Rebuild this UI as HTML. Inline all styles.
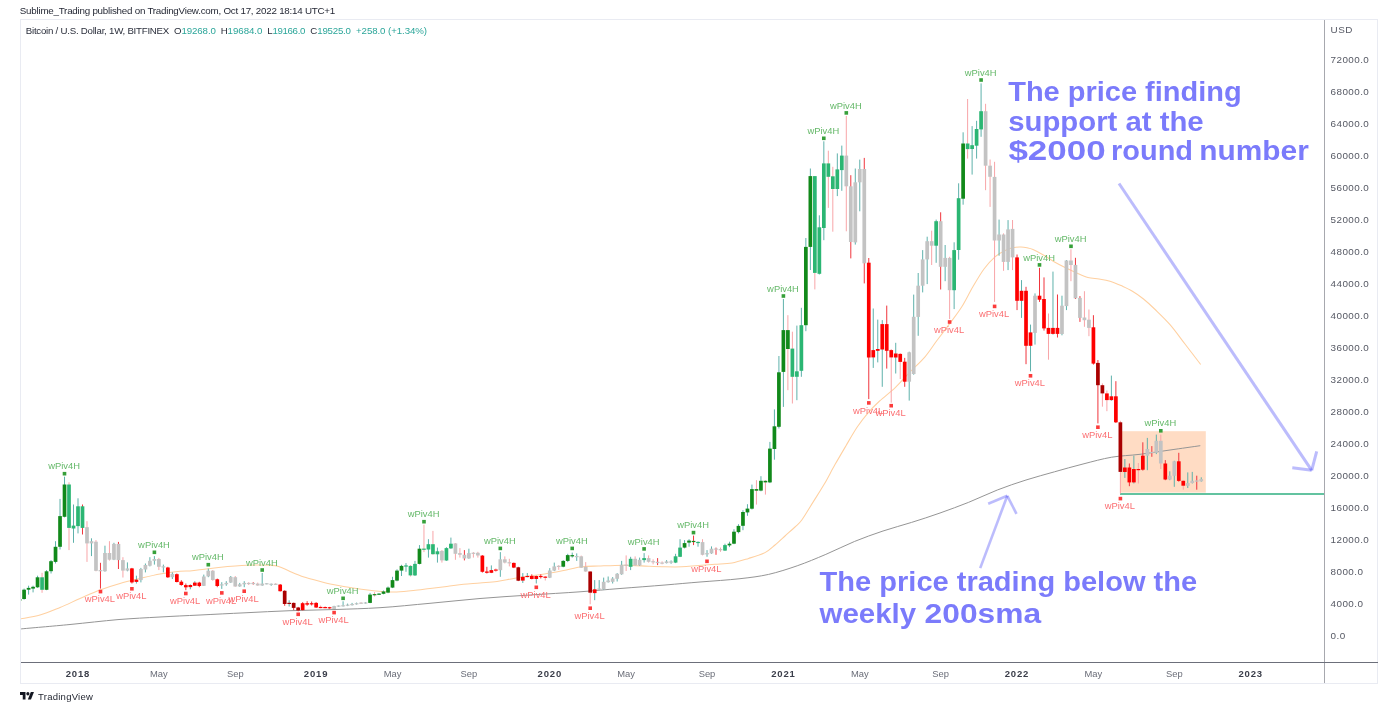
<!DOCTYPE html>
<html lang="en"><head><meta charset="utf-8"><title>Bitcoin / U.S. Dollar chart</title>
<style>html,body{margin:0;padding:0;background:#fff;}body{width:1399px;height:719px;overflow:hidden;font-family:"Liberation Sans", sans-serif;}svg{display:block}</style>
</head><body>
<svg width="1399" height="719" viewBox="0 0 1399 719" font-family='"Liberation Sans", sans-serif'>
<rect width="1399" height="719" fill="#fff"/>
<rect x="20.5" y="19.5" width="1357" height="664" fill="#fff" stroke="#e9ebf2" stroke-width="1"/>
<defs><clipPath id="cp"><rect x="21" y="20" width="1303" height="642"/></clipPath></defs>
<g clip-path="url(#cp)">
<rect x="1120.2" y="431.2" width="85.6" height="61.4" fill="#ffdcc4"/>
<line x1="1120" y1="494" x2="1324" y2="494" stroke="#63c3a0" stroke-width="2"/>
<path d="M20.0,619.0 C23.3,618.3 33.3,616.9 40.0,615.0 C46.7,613.1 53.3,610.2 60.0,607.5 C66.7,604.8 73.3,601.4 80.0,598.5 C86.7,595.6 93.3,592.5 100.0,590.0 C106.7,587.5 113.3,585.4 120.0,583.5 C126.7,581.6 133.3,580.1 140.0,578.5 C146.7,576.9 153.3,575.2 160.0,574.0 C166.7,572.8 175.0,571.8 180.0,571.3 C185.0,570.8 186.7,571.2 190.0,570.9 C193.3,570.6 197.0,570.1 200.0,569.7 C203.0,569.4 204.9,569.2 208.0,568.8 C211.1,568.4 212.1,568.0 218.6,567.4 C225.1,566.8 238.4,565.6 247.0,565.3 C255.6,564.9 264.7,565.1 270.0,565.3 C275.3,565.5 275.3,565.4 278.6,566.4 C281.9,567.4 285.8,569.6 290.0,571.4 C294.2,573.2 299.2,575.4 304.0,577.0 C308.8,578.6 313.8,579.7 318.6,581.0 C323.4,582.3 328.3,583.6 333.0,584.6 C337.7,585.6 342.3,586.2 347.0,587.0 C351.7,587.8 356.6,588.6 361.4,589.3 C366.2,590.0 371.8,590.6 375.7,591.0 C379.6,591.4 381.5,591.6 385.0,591.8 C388.5,592.0 392.0,592.2 396.7,592.0 C401.4,591.8 407.8,591.2 413.4,590.6 C418.9,590.0 424.4,589.2 430.0,588.5 C435.6,587.8 441.2,587.2 446.8,586.5 C452.4,585.8 458.0,584.9 463.5,584.3 C469.0,583.7 474.4,583.5 480.0,583.0 C485.6,582.5 491.4,582.2 497.0,581.5 C502.6,580.8 508.0,579.4 513.5,578.5 C519.0,577.6 524.4,576.8 530.0,576.0 C535.6,575.2 541.4,574.4 547.0,573.5 C552.6,572.6 557.8,571.6 563.6,570.5 C569.4,569.4 575.9,567.5 581.7,566.8 C587.5,566.0 592.9,566.2 598.4,566.0 C603.9,565.8 609.4,565.5 615.0,565.4 C620.6,565.3 626.2,565.2 631.8,565.4 C637.4,565.5 643.0,566.1 648.5,566.3 C654.0,566.5 659.4,566.7 665.0,566.8 C670.6,566.9 676.3,567.0 681.9,566.8 C687.5,566.6 693.1,565.8 698.6,565.4 C704.1,565.0 709.4,564.7 715.0,564.3 C720.6,563.9 726.4,564.0 732.0,563.0 C737.6,562.0 743.1,560.1 748.6,558.4 C754.1,556.7 760.6,554.8 765.0,552.6 C769.4,550.4 771.7,547.8 775.0,545.0 C778.3,542.2 781.7,539.0 785.0,536.0 C788.3,533.0 792.2,529.7 795.0,527.0 C797.8,524.3 798.8,524.1 801.8,520.0 C804.8,515.9 809.2,508.3 812.9,502.4 C816.6,496.5 820.3,490.9 824.0,484.6 C827.7,478.3 831.3,471.1 835.0,464.6 C838.7,458.1 842.3,452.0 846.0,445.7 C849.7,439.4 853.6,432.4 857.4,426.8 C861.1,421.2 864.8,416.6 868.5,412.3 C872.2,408.0 875.2,405.1 879.6,401.0 C884.0,396.9 889.9,392.6 895.0,387.8 C900.1,383.0 905.0,377.2 910.0,372.0 C915.0,366.8 920.5,362.1 925.0,356.8 C929.5,351.5 933.0,345.7 937.3,340.0 C941.6,334.3 946.5,327.9 950.6,322.4 C954.7,316.9 958.1,312.7 961.8,306.8 C965.5,300.9 969.2,293.1 972.9,286.8 C976.6,280.5 980.3,274.0 984.0,269.0 C987.7,264.0 991.3,260.0 995.0,256.8 C998.7,253.6 1003.1,251.6 1006.3,250.0 C1009.5,248.4 1011.5,248.0 1014.0,247.5 C1016.5,247.0 1018.8,246.9 1021.0,247.0 C1023.2,247.1 1025.0,247.4 1027.0,247.8 C1029.0,248.2 1030.3,248.3 1033.0,249.5 C1035.7,250.7 1039.8,252.9 1043.4,255.0 C1047.0,257.1 1050.8,259.9 1054.5,262.0 C1058.2,264.1 1061.9,266.0 1065.6,267.8 C1069.3,269.6 1073.1,271.4 1076.8,273.0 C1080.5,274.6 1084.2,276.4 1087.9,277.4 C1091.6,278.4 1095.3,278.4 1099.0,279.0 C1102.7,279.6 1106.3,280.1 1110.0,281.2 C1113.7,282.3 1117.3,283.9 1121.0,285.6 C1124.7,287.3 1128.7,289.0 1132.4,291.2 C1136.2,293.4 1139.8,296.0 1143.5,299.0 C1147.2,302.0 1150.2,304.7 1154.6,309.0 C1159.0,313.3 1164.9,318.8 1170.0,324.6 C1175.1,330.4 1179.9,337.4 1185.0,344.0 C1190.1,350.6 1198.1,361.1 1200.7,364.5" fill="none" stroke="#ffd0a0" stroke-width="1.05" stroke-linejoin="round"/>
<path d="M20.0,629.0 C28.3,628.2 53.7,626.1 70.0,624.5 C86.3,622.9 103.0,620.9 118.0,619.6 C133.0,618.4 146.3,617.8 160.0,617.0 C173.7,616.2 185.8,615.7 200.0,615.0 C214.2,614.3 230.0,613.5 245.0,612.8 C260.0,612.1 275.0,611.2 290.0,610.7 C305.0,610.2 320.0,610.0 335.0,609.5 C350.0,609.0 364.2,608.7 380.0,607.7 C395.8,606.7 413.3,604.8 430.0,603.3 C446.7,601.8 463.3,599.9 480.0,598.5 C496.7,597.1 513.3,596.1 530.0,595.0 C546.7,593.9 565.0,592.9 580.0,591.8 C595.0,590.7 605.8,589.6 620.0,588.5 C634.2,587.4 651.7,586.1 665.0,585.0 C678.3,583.9 687.5,583.0 700.0,582.0 C712.5,581.0 728.6,580.0 740.0,578.7 C751.4,577.4 759.1,576.5 768.6,574.4 C778.1,572.2 787.7,569.1 797.2,565.8 C806.7,562.5 816.3,558.4 825.8,554.4 C835.3,550.4 844.9,545.4 854.4,541.5 C863.9,537.6 873.5,534.2 883.0,531.0 C892.5,527.8 902.1,525.4 911.6,522.4 C921.1,519.4 930.5,516.4 940.0,513.0 C949.5,509.6 959.2,506.1 968.7,502.3 C978.2,498.5 987.8,493.7 997.3,490.0 C1006.8,486.3 1016.5,483.0 1026.0,480.0 C1035.5,477.0 1045.0,474.5 1054.5,471.8 C1064.0,469.1 1073.5,466.4 1083.0,464.0 C1092.5,461.6 1102.2,458.8 1111.7,457.2 C1121.2,455.6 1130.3,455.5 1140.0,454.3 C1149.7,453.1 1160.0,451.4 1170.0,450.0 C1180.0,448.6 1195.2,446.4 1200.3,445.7" fill="none" stroke="#959595" stroke-width="1" stroke-linejoin="round"/>
<line x1="19.59" y1="598.4" x2="19.59" y2="601.1" stroke="#5eb1ab" stroke-width="1"/>
<rect x="17.74" y="599.1" width="3.7" height="1.6" fill="#11891a"/>
<line x1="24.08" y1="588.6" x2="24.08" y2="599.7" stroke="#5eb1ab" stroke-width="1"/>
<rect x="22.23" y="589.7" width="3.7" height="9.3" fill="#11891a"/>
<line x1="28.58" y1="585.7" x2="28.58" y2="594.6" stroke="#5eb1ab" stroke-width="1"/>
<rect x="26.73" y="587.9" width="3.7" height="1.8" fill="#11891a"/>
<line x1="33.07" y1="585.7" x2="33.07" y2="592.4" stroke="#5eb1ab" stroke-width="1"/>
<rect x="31.22" y="586.8" width="3.7" height="1.8" fill="#11891a"/>
<line x1="37.56" y1="575.7" x2="37.56" y2="587.9" stroke="#5eb1ab" stroke-width="1"/>
<rect x="35.71" y="577.3" width="3.7" height="10.0" fill="#11891a"/>
<line x1="42.06" y1="572.8" x2="42.06" y2="592.8" stroke="#f8a5a8" stroke-width="1"/>
<rect x="40.21" y="577.3" width="3.7" height="12.5" fill="#2bb673"/>
<line x1="46.55" y1="570.1" x2="46.55" y2="590.2" stroke="#5eb1ab" stroke-width="1"/>
<rect x="44.70" y="571.3" width="3.7" height="18.5" fill="#11891a"/>
<line x1="51.04" y1="560.1" x2="51.04" y2="573.5" stroke="#5eb1ab" stroke-width="1"/>
<rect x="49.19" y="561.2" width="3.7" height="10.0" fill="#11891a"/>
<line x1="55.53" y1="541.2" x2="55.53" y2="563.5" stroke="#5eb1ab" stroke-width="1"/>
<rect x="53.68" y="546.8" width="3.7" height="15.1" fill="#11891a"/>
<line x1="60.03" y1="498.9" x2="60.03" y2="549.5" stroke="#5eb1ab" stroke-width="1"/>
<rect x="58.18" y="516.1" width="3.7" height="30.7" fill="#11891a"/>
<line x1="64.52" y1="476.7" x2="64.52" y2="517.4" stroke="#5eb1ab" stroke-width="1"/>
<rect x="62.67" y="484.5" width="3.7" height="32.3" fill="#11891a"/>
<line x1="69.01" y1="482.3" x2="69.01" y2="550.1" stroke="#f8a5a8" stroke-width="1"/>
<rect x="67.16" y="484.5" width="3.7" height="43.4" fill="#2bb673"/>
<line x1="73.51" y1="504.5" x2="73.51" y2="542.8" stroke="#5eb1ab" stroke-width="1"/>
<rect x="71.66" y="525.6" width="3.7" height="2.9" fill="#2bb673"/>
<line x1="78.00" y1="498.3" x2="78.00" y2="533.4" stroke="#5eb1ab" stroke-width="1"/>
<rect x="76.15" y="506.3" width="3.7" height="19.8" fill="#2bb673"/>
<line x1="82.49" y1="504.5" x2="82.49" y2="534.5" stroke="#f0353c" stroke-width="1"/>
<rect x="80.64" y="506.3" width="3.7" height="21.6" fill="#2bb673"/>
<line x1="86.99" y1="521.2" x2="86.99" y2="561.9" stroke="#f8a5a8" stroke-width="1"/>
<rect x="85.14" y="527.2" width="3.7" height="16.2" fill="#c3c3c3"/>
<line x1="91.48" y1="538.3" x2="91.48" y2="556.1" stroke="#5eb1ab" stroke-width="1"/>
<rect x="89.63" y="541.2" width="3.7" height="2.2" fill="#c3c3c3"/>
<line x1="95.97" y1="540.1" x2="95.97" y2="571.3" stroke="#f8a5a8" stroke-width="1"/>
<rect x="94.12" y="541.7" width="3.7" height="29.1" fill="#c3c3c3"/>
<line x1="100.47" y1="562.8" x2="100.47" y2="588.6" stroke="#f0353c" stroke-width="1"/>
<rect x="98.62" y="570.1" width="3.7" height="1.2" fill="#c3c3c3"/>
<line x1="104.96" y1="545.7" x2="104.96" y2="571.7" stroke="#5eb1ab" stroke-width="1"/>
<rect x="103.11" y="553.0" width="3.7" height="18.2" fill="#c3c3c3"/>
<line x1="109.45" y1="541.2" x2="109.45" y2="560.6" stroke="#f8a5a8" stroke-width="1"/>
<rect x="107.60" y="553.0" width="3.7" height="6.7" fill="#c3c3c3"/>
<line x1="113.94" y1="542.8" x2="113.94" y2="560.1" stroke="#5eb1ab" stroke-width="1"/>
<rect x="112.09" y="543.9" width="3.7" height="15.8" fill="#c3c3c3"/>
<line x1="118.44" y1="541.9" x2="118.44" y2="569.0" stroke="#f0353c" stroke-width="1"/>
<rect x="116.59" y="543.9" width="3.7" height="16.2" fill="#c3c3c3"/>
<line x1="122.93" y1="557.2" x2="122.93" y2="577.5" stroke="#f8a5a8" stroke-width="1"/>
<rect x="121.08" y="560.1" width="3.7" height="10.5" fill="#c3c3c3"/>
<line x1="127.42" y1="562.4" x2="127.42" y2="571.3" stroke="#5eb1ab" stroke-width="1"/>
<rect x="125.57" y="568.4" width="3.7" height="2.2" fill="#c3c3c3"/>
<line x1="131.92" y1="567.9" x2="131.92" y2="583.5" stroke="#f0353c" stroke-width="1"/>
<rect x="130.07" y="568.4" width="3.7" height="14.0" fill="#fe0000"/>
<line x1="136.41" y1="575.7" x2="136.41" y2="583.5" stroke="#5eb1ab" stroke-width="1"/>
<rect x="134.56" y="579.7" width="3.7" height="2.2" fill="#fe0000"/>
<line x1="140.90" y1="567.9" x2="140.90" y2="582.4" stroke="#5eb1ab" stroke-width="1"/>
<rect x="139.05" y="569.0" width="3.7" height="11.1" fill="#c3c3c3"/>
<line x1="145.40" y1="563.5" x2="145.40" y2="572.4" stroke="#5eb1ab" stroke-width="1"/>
<rect x="143.55" y="565.0" width="3.7" height="4.5" fill="#c3c3c3"/>
<line x1="149.89" y1="557.2" x2="149.89" y2="566.4" stroke="#5eb1ab" stroke-width="1"/>
<rect x="148.04" y="560.8" width="3.7" height="4.9" fill="#c3c3c3"/>
<line x1="154.38" y1="556.1" x2="154.38" y2="564.6" stroke="#5eb1ab" stroke-width="1"/>
<rect x="152.53" y="559.0" width="3.7" height="1.8" fill="#c3c3c3"/>
<line x1="158.87" y1="557.9" x2="158.87" y2="570.1" stroke="#f8a5a8" stroke-width="1"/>
<rect x="157.02" y="559.0" width="3.7" height="7.8" fill="#c3c3c3"/>
<line x1="163.37" y1="564.6" x2="163.37" y2="572.4" stroke="#5eb1ab" stroke-width="1"/>
<rect x="161.52" y="566.3" width="3.7" height="1.2" fill="#c3c3c3"/>
<line x1="167.86" y1="566.8" x2="167.86" y2="577.9" stroke="#f0353c" stroke-width="1"/>
<rect x="166.01" y="567.5" width="3.7" height="9.8" fill="#fe0000"/>
<line x1="172.35" y1="572.4" x2="172.35" y2="579.0" stroke="#5eb1ab" stroke-width="1"/>
<rect x="170.50" y="573.9" width="3.7" height="3.3" fill="#c3c3c3"/>
<line x1="176.85" y1="573.5" x2="176.85" y2="582.4" stroke="#f0353c" stroke-width="1"/>
<rect x="175.00" y="574.2" width="3.7" height="7.8" fill="#fe0000"/>
<line x1="181.34" y1="580.2" x2="181.34" y2="585.7" stroke="#f0353c" stroke-width="1"/>
<rect x="179.49" y="581.7" width="3.7" height="3.3" fill="#fe0000"/>
<line x1="185.83" y1="583.5" x2="185.83" y2="590.2" stroke="#f0353c" stroke-width="1"/>
<rect x="183.98" y="585.1" width="3.7" height="2.2" fill="#fe0000"/>
<line x1="190.32" y1="584.3" x2="190.32" y2="589.3" stroke="#5eb1ab" stroke-width="1"/>
<rect x="188.47" y="585.0" width="3.7" height="2.1" fill="#fe0000"/>
<line x1="194.82" y1="581.2" x2="194.82" y2="586.0" stroke="#5eb1ab" stroke-width="1"/>
<rect x="192.97" y="582.6" width="3.7" height="3.1" fill="#fe0000"/>
<line x1="199.31" y1="581.8" x2="199.31" y2="587.2" stroke="#f0353c" stroke-width="1"/>
<rect x="197.46" y="582.6" width="3.7" height="3.4" fill="#fe0000"/>
<line x1="203.80" y1="574.6" x2="203.80" y2="586.0" stroke="#5eb1ab" stroke-width="1"/>
<rect x="201.95" y="576.5" width="3.7" height="9.3" fill="#c3c3c3"/>
<line x1="208.30" y1="568.6" x2="208.30" y2="577.2" stroke="#5eb1ab" stroke-width="1"/>
<rect x="206.45" y="570.7" width="3.7" height="5.7" fill="#c3c3c3"/>
<line x1="212.79" y1="570.0" x2="212.79" y2="580.8" stroke="#f8a5a8" stroke-width="1"/>
<rect x="210.94" y="570.7" width="3.7" height="9.3" fill="#c3c3c3"/>
<line x1="217.28" y1="578.6" x2="217.28" y2="587.2" stroke="#f0353c" stroke-width="1"/>
<rect x="215.43" y="579.3" width="3.7" height="6.7" fill="#fe0000"/>
<line x1="221.78" y1="582.2" x2="221.78" y2="588.9" stroke="#5eb1ab" stroke-width="1"/>
<rect x="219.93" y="584.3" width="3.7" height="1.2" fill="#c3c3c3"/>
<line x1="226.27" y1="581.2" x2="226.27" y2="585.8" stroke="#5eb1ab" stroke-width="1"/>
<rect x="224.42" y="582.9" width="3.7" height="1.4" fill="#c3c3c3"/>
<line x1="230.76" y1="576.0" x2="230.76" y2="582.9" stroke="#5eb1ab" stroke-width="1"/>
<rect x="228.91" y="576.9" width="3.7" height="5.7" fill="#c3c3c3"/>
<line x1="235.26" y1="576.0" x2="235.26" y2="586.8" stroke="#f8a5a8" stroke-width="1"/>
<rect x="233.41" y="577.2" width="3.7" height="9.3" fill="#c3c3c3"/>
<line x1="239.75" y1="582.9" x2="239.75" y2="586.8" stroke="#5eb1ab" stroke-width="1"/>
<rect x="237.90" y="584.3" width="3.7" height="2.1" fill="#c3c3c3"/>
<line x1="244.24" y1="581.2" x2="244.24" y2="587.2" stroke="#5eb1ab" stroke-width="1"/>
<rect x="242.39" y="582.9" width="3.7" height="1.4" fill="#c3c3c3"/>
<line x1="248.73" y1="582.2" x2="248.73" y2="585.0" stroke="#f8a5a8" stroke-width="1"/>
<rect x="246.88" y="582.9" width="3.7" height="1.2" fill="#c3c3c3"/>
<line x1="253.23" y1="582.2" x2="253.23" y2="584.6" stroke="#f0353c" stroke-width="1"/>
<rect x="251.38" y="582.9" width="3.7" height="1.2" fill="#c3c3c3"/>
<line x1="257.72" y1="582.6" x2="257.72" y2="585.8" stroke="#f8a5a8" stroke-width="1"/>
<rect x="255.87" y="583.6" width="3.7" height="1.9" fill="#c3c3c3"/>
<line x1="262.21" y1="573.0" x2="262.21" y2="585.8" stroke="#5eb1ab" stroke-width="1"/>
<rect x="260.36" y="583.6" width="3.7" height="1.9" fill="#c3c3c3"/>
<line x1="266.71" y1="583.2" x2="266.71" y2="584.3" stroke="#5eb1ab" stroke-width="1"/>
<rect x="264.86" y="583.2" width="3.7" height="1.2" fill="#c3c3c3"/>
<line x1="271.20" y1="583.6" x2="271.20" y2="585.8" stroke="#5eb1ab" stroke-width="1"/>
<rect x="269.35" y="583.7" width="3.7" height="1.2" fill="#c3c3c3"/>
<line x1="275.69" y1="583.2" x2="275.69" y2="585.0" stroke="#f8a5a8" stroke-width="1"/>
<rect x="273.84" y="583.7" width="3.7" height="1.2" fill="#c3c3c3"/>
<line x1="280.19" y1="584.0" x2="280.19" y2="591.5" stroke="#f0353c" stroke-width="1"/>
<rect x="278.33" y="584.6" width="3.7" height="6.6" fill="#fe0000"/>
<line x1="284.68" y1="590.3" x2="284.68" y2="605.8" stroke="#f0353c" stroke-width="1"/>
<rect x="282.83" y="590.8" width="3.7" height="13.2" fill="#a90000"/>
<line x1="289.17" y1="600.3" x2="289.17" y2="606.5" stroke="#5eb1ab" stroke-width="1"/>
<rect x="287.32" y="602.8" width="3.7" height="1.2" fill="#a90000"/>
<line x1="293.66" y1="602.6" x2="293.66" y2="610.1" stroke="#f0353c" stroke-width="1"/>
<rect x="291.81" y="602.9" width="3.7" height="5.0" fill="#a90000"/>
<line x1="298.16" y1="606.9" x2="298.16" y2="611.3" stroke="#f0353c" stroke-width="1"/>
<rect x="296.31" y="607.5" width="3.7" height="2.9" fill="#a90000"/>
<line x1="302.65" y1="602.2" x2="302.65" y2="610.3" stroke="#f0353c" stroke-width="1"/>
<rect x="300.80" y="603.2" width="3.7" height="6.9" fill="#fe0000"/>
<line x1="307.14" y1="601.2" x2="307.14" y2="605.8" stroke="#f0353c" stroke-width="1"/>
<rect x="305.29" y="603.2" width="3.7" height="1.4" fill="#fe0000"/>
<line x1="311.64" y1="601.5" x2="311.64" y2="605.5" stroke="#f0353c" stroke-width="1"/>
<rect x="309.79" y="603.2" width="3.7" height="1.2" fill="#fe0000"/>
<line x1="316.13" y1="602.2" x2="316.13" y2="607.9" stroke="#f0353c" stroke-width="1"/>
<rect x="314.28" y="602.9" width="3.7" height="4.6" fill="#fe0000"/>
<line x1="320.62" y1="605.5" x2="320.62" y2="608.3" stroke="#f8a5a8" stroke-width="1"/>
<rect x="318.77" y="606.9" width="3.7" height="1.2" fill="#fe0000"/>
<line x1="325.12" y1="606.1" x2="325.12" y2="608.3" stroke="#f8a5a8" stroke-width="1"/>
<rect x="323.26" y="607.0" width="3.7" height="1.2" fill="#fe0000"/>
<line x1="329.61" y1="606.9" x2="329.61" y2="608.6" stroke="#f0353c" stroke-width="1"/>
<rect x="327.76" y="607.2" width="3.7" height="1.2" fill="#fe0000"/>
<line x1="334.10" y1="605.8" x2="334.10" y2="609.3" stroke="#5eb1ab" stroke-width="1"/>
<rect x="332.25" y="606.1" width="3.7" height="2.9" fill="#c3c3c3"/>
<line x1="338.59" y1="605.5" x2="338.59" y2="606.9" stroke="#5eb1ab" stroke-width="1"/>
<rect x="336.74" y="605.5" width="3.7" height="1.2" fill="#c3c3c3"/>
<line x1="343.09" y1="601.3" x2="343.09" y2="606.5" stroke="#5eb1ab" stroke-width="1"/>
<rect x="341.24" y="605.2" width="3.7" height="1.2" fill="#c3c3c3"/>
<line x1="347.58" y1="603.6" x2="347.58" y2="606.1" stroke="#5eb1ab" stroke-width="1"/>
<rect x="345.73" y="604.6" width="3.7" height="1.2" fill="#c3c3c3"/>
<line x1="352.07" y1="602.9" x2="352.07" y2="605.5" stroke="#5eb1ab" stroke-width="1"/>
<rect x="350.22" y="604.0" width="3.7" height="1.2" fill="#c3c3c3"/>
<line x1="356.57" y1="602.6" x2="356.57" y2="604.6" stroke="#5eb1ab" stroke-width="1"/>
<rect x="354.72" y="603.2" width="3.7" height="1.2" fill="#c3c3c3"/>
<line x1="361.06" y1="602.2" x2="361.06" y2="603.8" stroke="#f8a5a8" stroke-width="1"/>
<rect x="359.21" y="602.6" width="3.7" height="1.2" fill="#c3c3c3"/>
<line x1="365.55" y1="602.2" x2="365.55" y2="603.6" stroke="#5eb1ab" stroke-width="1"/>
<rect x="363.70" y="602.4" width="3.7" height="1.2" fill="#c3c3c3"/>
<line x1="370.05" y1="592.9" x2="370.05" y2="603.2" stroke="#5eb1ab" stroke-width="1"/>
<rect x="368.19" y="594.6" width="3.7" height="8.3" fill="#11891a"/>
<line x1="374.54" y1="592.2" x2="374.54" y2="596.5" stroke="#f8a5a8" stroke-width="1"/>
<rect x="372.69" y="594.1" width="3.7" height="1.2" fill="#11891a"/>
<line x1="379.03" y1="593.2" x2="379.03" y2="595.0" stroke="#5eb1ab" stroke-width="1"/>
<rect x="377.18" y="593.6" width="3.7" height="1.2" fill="#11891a"/>
<line x1="383.52" y1="590.5" x2="383.52" y2="594.3" stroke="#5eb1ab" stroke-width="1"/>
<rect x="381.67" y="591.5" width="3.7" height="2.3" fill="#11891a"/>
<line x1="388.02" y1="586.5" x2="388.02" y2="593.2" stroke="#5eb1ab" stroke-width="1"/>
<rect x="386.17" y="587.6" width="3.7" height="5.0" fill="#11891a"/>
<line x1="392.51" y1="576.8" x2="392.51" y2="588.1" stroke="#5eb1ab" stroke-width="1"/>
<rect x="390.66" y="580.1" width="3.7" height="7.5" fill="#11891a"/>
<line x1="397.00" y1="569.3" x2="397.00" y2="581.3" stroke="#5eb1ab" stroke-width="1"/>
<rect x="395.15" y="570.6" width="3.7" height="10.0" fill="#11891a"/>
<line x1="401.50" y1="564.8" x2="401.50" y2="576.0" stroke="#5eb1ab" stroke-width="1"/>
<rect x="399.65" y="565.9" width="3.7" height="4.7" fill="#11891a"/>
<line x1="405.99" y1="563.1" x2="405.99" y2="571.8" stroke="#5eb1ab" stroke-width="1"/>
<rect x="404.14" y="565.4" width="3.7" height="1.2" fill="#2bb673"/>
<line x1="410.48" y1="565.1" x2="410.48" y2="576.5" stroke="#f8a5a8" stroke-width="1"/>
<rect x="408.63" y="565.9" width="3.7" height="9.5" fill="#2bb673"/>
<line x1="414.98" y1="560.9" x2="414.98" y2="576.0" stroke="#5eb1ab" stroke-width="1"/>
<rect x="413.12" y="563.9" width="3.7" height="11.5" fill="#2bb673"/>
<line x1="419.47" y1="545.1" x2="419.47" y2="564.4" stroke="#5eb1ab" stroke-width="1"/>
<rect x="417.62" y="548.7" width="3.7" height="15.2" fill="#11891a"/>
<line x1="423.96" y1="524.7" x2="423.96" y2="552.1" stroke="#f8a5a8" stroke-width="1"/>
<rect x="422.11" y="548.6" width="3.7" height="1.2" fill="#2bb673"/>
<line x1="428.45" y1="539.2" x2="428.45" y2="557.6" stroke="#5eb1ab" stroke-width="1"/>
<rect x="426.60" y="544.2" width="3.7" height="5.3" fill="#2bb673"/>
<line x1="432.95" y1="530.9" x2="432.95" y2="554.8" stroke="#f8a5a8" stroke-width="1"/>
<rect x="431.10" y="544.2" width="3.7" height="10.0" fill="#2bb673"/>
<line x1="437.44" y1="547.6" x2="437.44" y2="562.6" stroke="#5eb1ab" stroke-width="1"/>
<rect x="435.59" y="551.3" width="3.7" height="3.0" fill="#2bb673"/>
<line x1="441.93" y1="550.1" x2="441.93" y2="562.6" stroke="#f8a5a8" stroke-width="1"/>
<rect x="440.08" y="550.9" width="3.7" height="9.5" fill="#c3c3c3"/>
<line x1="446.43" y1="547.2" x2="446.43" y2="560.9" stroke="#5eb1ab" stroke-width="1"/>
<rect x="444.58" y="548.1" width="3.7" height="12.4" fill="#2bb673"/>
<line x1="450.92" y1="537.6" x2="450.92" y2="548.9" stroke="#5eb1ab" stroke-width="1"/>
<rect x="449.07" y="543.7" width="3.7" height="4.7" fill="#2bb673"/>
<line x1="455.41" y1="543.1" x2="455.41" y2="559.8" stroke="#f8a5a8" stroke-width="1"/>
<rect x="453.56" y="543.4" width="3.7" height="10.4" fill="#c3c3c3"/>
<line x1="459.91" y1="548.1" x2="459.91" y2="557.6" stroke="#f8a5a8" stroke-width="1"/>
<rect x="458.06" y="553.1" width="3.7" height="1.7" fill="#c3c3c3"/>
<line x1="464.40" y1="550.1" x2="464.40" y2="560.4" stroke="#f0353c" stroke-width="1"/>
<rect x="462.55" y="554.8" width="3.7" height="3.7" fill="#c3c3c3"/>
<line x1="468.89" y1="548.7" x2="468.89" y2="558.8" stroke="#5eb1ab" stroke-width="1"/>
<rect x="467.04" y="553.1" width="3.7" height="5.3" fill="#c3c3c3"/>
<line x1="473.38" y1="552.1" x2="473.38" y2="557.6" stroke="#f8a5a8" stroke-width="1"/>
<rect x="471.53" y="552.7" width="3.7" height="1.2" fill="#c3c3c3"/>
<line x1="477.88" y1="551.8" x2="477.88" y2="557.6" stroke="#f8a5a8" stroke-width="1"/>
<rect x="476.03" y="552.8" width="3.7" height="2.7" fill="#c3c3c3"/>
<line x1="482.37" y1="555.1" x2="482.37" y2="572.6" stroke="#f0353c" stroke-width="1"/>
<rect x="480.52" y="555.6" width="3.7" height="16.2" fill="#fe0000"/>
<line x1="486.86" y1="566.8" x2="486.86" y2="573.5" stroke="#f0353c" stroke-width="1"/>
<rect x="485.01" y="571.5" width="3.7" height="1.3" fill="#fe0000"/>
<line x1="491.36" y1="565.4" x2="491.36" y2="573.1" stroke="#5eb1ab" stroke-width="1"/>
<rect x="489.51" y="570.1" width="3.7" height="2.7" fill="#fe0000"/>
<line x1="495.85" y1="568.4" x2="495.85" y2="572.1" stroke="#f8a5a8" stroke-width="1"/>
<rect x="494.00" y="569.5" width="3.7" height="1.2" fill="#fe0000"/>
<line x1="500.34" y1="552.1" x2="500.34" y2="576.8" stroke="#5eb1ab" stroke-width="1"/>
<rect x="498.49" y="559.3" width="3.7" height="10.9" fill="#c3c3c3"/>
<line x1="504.84" y1="556.4" x2="504.84" y2="563.4" stroke="#f8a5a8" stroke-width="1"/>
<rect x="502.99" y="559.3" width="3.7" height="3.3" fill="#c3c3c3"/>
<line x1="509.33" y1="558.8" x2="509.33" y2="566.4" stroke="#f8a5a8" stroke-width="1"/>
<rect x="507.48" y="562.2" width="3.7" height="1.2" fill="#c3c3c3"/>
<line x1="513.82" y1="562.6" x2="513.82" y2="568.1" stroke="#f0353c" stroke-width="1"/>
<rect x="511.97" y="562.9" width="3.7" height="4.7" fill="#fe0000"/>
<line x1="518.31" y1="566.8" x2="518.31" y2="581.1" stroke="#f0353c" stroke-width="1"/>
<rect x="516.46" y="567.3" width="3.7" height="13.4" fill="#a90000"/>
<line x1="522.81" y1="573.1" x2="522.81" y2="583.0" stroke="#5eb1ab" stroke-width="1"/>
<rect x="520.96" y="576.8" width="3.7" height="3.8" fill="#fe0000"/>
<line x1="527.30" y1="573.0" x2="527.30" y2="577.3" stroke="#5eb1ab" stroke-width="1"/>
<rect x="525.45" y="575.9" width="3.7" height="1.2" fill="#fe0000"/>
<line x1="531.79" y1="574.3" x2="531.79" y2="579.3" stroke="#f0353c" stroke-width="1"/>
<rect x="529.94" y="576.0" width="3.7" height="3.0" fill="#fe0000"/>
<line x1="536.29" y1="575.5" x2="536.29" y2="583.5" stroke="#5eb1ab" stroke-width="1"/>
<rect x="534.44" y="576.0" width="3.7" height="3.0" fill="#fe0000"/>
<line x1="540.78" y1="574.3" x2="540.78" y2="578.5" stroke="#f0353c" stroke-width="1"/>
<rect x="538.93" y="575.9" width="3.7" height="1.2" fill="#fe0000"/>
<line x1="545.27" y1="576.0" x2="545.27" y2="580.5" stroke="#f8a5a8" stroke-width="1"/>
<rect x="543.42" y="576.6" width="3.7" height="1.2" fill="#fe0000"/>
<line x1="549.77" y1="568.1" x2="549.77" y2="578.1" stroke="#5eb1ab" stroke-width="1"/>
<rect x="547.92" y="570.5" width="3.7" height="7.2" fill="#c3c3c3"/>
<line x1="554.26" y1="562.6" x2="554.26" y2="571.1" stroke="#5eb1ab" stroke-width="1"/>
<rect x="552.41" y="566.4" width="3.7" height="4.2" fill="#c3c3c3"/>
<line x1="558.75" y1="565.1" x2="558.75" y2="569.8" stroke="#f8a5a8" stroke-width="1"/>
<rect x="556.90" y="565.8" width="3.7" height="1.2" fill="#c3c3c3"/>
<line x1="563.24" y1="560.1" x2="563.24" y2="567.3" stroke="#5eb1ab" stroke-width="1"/>
<rect x="561.39" y="560.9" width="3.7" height="5.8" fill="#11891a"/>
<line x1="567.74" y1="553.8" x2="567.74" y2="562.1" stroke="#5eb1ab" stroke-width="1"/>
<rect x="565.89" y="555.1" width="3.7" height="5.8" fill="#11891a"/>
<line x1="572.23" y1="552.6" x2="572.23" y2="557.6" stroke="#5eb1ab" stroke-width="1"/>
<rect x="570.38" y="555.1" width="3.7" height="1.3" fill="#11891a"/>
<line x1="576.72" y1="553.4" x2="576.72" y2="560.9" stroke="#5eb1ab" stroke-width="1"/>
<rect x="574.87" y="556.0" width="3.7" height="1.2" fill="#c3c3c3"/>
<line x1="581.22" y1="555.6" x2="581.22" y2="567.9" stroke="#f8a5a8" stroke-width="1"/>
<rect x="579.37" y="556.3" width="3.7" height="11.4" fill="#c3c3c3"/>
<line x1="585.71" y1="562.1" x2="585.71" y2="571.8" stroke="#f8a5a8" stroke-width="1"/>
<rect x="583.86" y="566.8" width="3.7" height="4.7" fill="#c3c3c3"/>
<line x1="590.20" y1="571.0" x2="590.20" y2="604.3" stroke="#f8a5a8" stroke-width="1"/>
<rect x="588.35" y="571.5" width="3.7" height="21.2" fill="#a90000"/>
<line x1="594.70" y1="580.1" x2="594.70" y2="600.2" stroke="#5eb1ab" stroke-width="1"/>
<rect x="592.85" y="589.3" width="3.7" height="3.8" fill="#fe0000"/>
<line x1="599.19" y1="580.1" x2="599.19" y2="590.2" stroke="#5eb1ab" stroke-width="1"/>
<rect x="597.34" y="588.5" width="3.7" height="1.2" fill="#c3c3c3"/>
<line x1="603.68" y1="577.6" x2="603.68" y2="589.8" stroke="#5eb1ab" stroke-width="1"/>
<rect x="601.83" y="581.8" width="3.7" height="7.5" fill="#c3c3c3"/>
<line x1="608.17" y1="576.5" x2="608.17" y2="582.6" stroke="#5eb1ab" stroke-width="1"/>
<rect x="606.32" y="580.5" width="3.7" height="1.7" fill="#c3c3c3"/>
<line x1="612.67" y1="577.1" x2="612.67" y2="583.5" stroke="#5eb1ab" stroke-width="1"/>
<rect x="610.82" y="578.5" width="3.7" height="3.3" fill="#c3c3c3"/>
<line x1="617.16" y1="573.1" x2="617.16" y2="581.5" stroke="#5eb1ab" stroke-width="1"/>
<rect x="615.31" y="573.8" width="3.7" height="5.0" fill="#c3c3c3"/>
<line x1="621.65" y1="560.9" x2="621.65" y2="574.8" stroke="#5eb1ab" stroke-width="1"/>
<rect x="619.80" y="564.8" width="3.7" height="9.5" fill="#c3c3c3"/>
<line x1="626.15" y1="555.4" x2="626.15" y2="571.0" stroke="#f8a5a8" stroke-width="1"/>
<rect x="624.30" y="564.6" width="3.7" height="1.2" fill="#c3c3c3"/>
<line x1="630.64" y1="556.8" x2="630.64" y2="570.1" stroke="#5eb1ab" stroke-width="1"/>
<rect x="628.79" y="558.8" width="3.7" height="8.0" fill="#2bb673"/>
<line x1="635.13" y1="556.4" x2="635.13" y2="565.9" stroke="#f8a5a8" stroke-width="1"/>
<rect x="633.28" y="558.8" width="3.7" height="6.7" fill="#c3c3c3"/>
<line x1="639.62" y1="557.6" x2="639.62" y2="565.9" stroke="#5eb1ab" stroke-width="1"/>
<rect x="637.77" y="559.8" width="3.7" height="5.7" fill="#c3c3c3"/>
<line x1="644.12" y1="553.1" x2="644.12" y2="562.6" stroke="#5eb1ab" stroke-width="1"/>
<rect x="642.27" y="558.1" width="3.7" height="2.0" fill="#2bb673"/>
<line x1="648.61" y1="555.4" x2="648.61" y2="562.6" stroke="#f8a5a8" stroke-width="1"/>
<rect x="646.76" y="558.1" width="3.7" height="3.7" fill="#c3c3c3"/>
<line x1="653.10" y1="559.3" x2="653.10" y2="564.3" stroke="#f8a5a8" stroke-width="1"/>
<rect x="651.25" y="561.2" width="3.7" height="1.2" fill="#c3c3c3"/>
<line x1="657.60" y1="558.1" x2="657.60" y2="565.1" stroke="#f0353c" stroke-width="1"/>
<rect x="655.75" y="561.8" width="3.7" height="1.3" fill="#c3c3c3"/>
<line x1="662.09" y1="561.4" x2="662.09" y2="564.3" stroke="#f8a5a8" stroke-width="1"/>
<rect x="660.24" y="562.5" width="3.7" height="1.2" fill="#c3c3c3"/>
<line x1="666.58" y1="560.1" x2="666.58" y2="563.4" stroke="#5eb1ab" stroke-width="1"/>
<rect x="664.73" y="561.4" width="3.7" height="1.7" fill="#c3c3c3"/>
<line x1="671.08" y1="560.4" x2="671.08" y2="563.8" stroke="#5eb1ab" stroke-width="1"/>
<rect x="669.23" y="561.4" width="3.7" height="1.3" fill="#c3c3c3"/>
<line x1="675.57" y1="553.8" x2="675.57" y2="563.1" stroke="#5eb1ab" stroke-width="1"/>
<rect x="673.72" y="556.3" width="3.7" height="6.3" fill="#2bb673"/>
<line x1="680.06" y1="539.2" x2="680.06" y2="557.1" stroke="#5eb1ab" stroke-width="1"/>
<rect x="678.21" y="547.6" width="3.7" height="9.2" fill="#2bb673"/>
<line x1="684.56" y1="540.1" x2="684.56" y2="548.4" stroke="#5eb1ab" stroke-width="1"/>
<rect x="682.71" y="543.1" width="3.7" height="4.5" fill="#11891a"/>
<line x1="689.05" y1="539.2" x2="689.05" y2="546.7" stroke="#5eb1ab" stroke-width="1"/>
<rect x="687.20" y="540.6" width="3.7" height="2.0" fill="#11891a"/>
<line x1="693.54" y1="535.6" x2="693.54" y2="545.1" stroke="#f0353c" stroke-width="1"/>
<rect x="691.69" y="540.9" width="3.7" height="1.2" fill="#11891a"/>
<line x1="698.03" y1="541.4" x2="698.03" y2="546.7" stroke="#5eb1ab" stroke-width="1"/>
<rect x="696.18" y="541.9" width="3.7" height="1.2" fill="#2bb673"/>
<line x1="702.53" y1="539.2" x2="702.53" y2="555.4" stroke="#f8a5a8" stroke-width="1"/>
<rect x="700.68" y="542.1" width="3.7" height="12.7" fill="#c3c3c3"/>
<line x1="707.02" y1="550.1" x2="707.02" y2="556.8" stroke="#5eb1ab" stroke-width="1"/>
<rect x="705.17" y="553.1" width="3.7" height="1.3" fill="#c3c3c3"/>
<line x1="711.51" y1="546.4" x2="711.51" y2="553.8" stroke="#5eb1ab" stroke-width="1"/>
<rect x="709.66" y="548.7" width="3.7" height="4.7" fill="#c3c3c3"/>
<line x1="716.01" y1="547.6" x2="716.01" y2="554.8" stroke="#f0353c" stroke-width="1"/>
<rect x="714.16" y="548.5" width="3.7" height="1.2" fill="#c3c3c3"/>
<line x1="720.50" y1="547.6" x2="720.50" y2="551.8" stroke="#f8a5a8" stroke-width="1"/>
<rect x="718.65" y="549.1" width="3.7" height="1.2" fill="#c3c3c3"/>
<line x1="724.99" y1="543.7" x2="724.99" y2="550.9" stroke="#5eb1ab" stroke-width="1"/>
<rect x="723.14" y="545.1" width="3.7" height="5.5" fill="#2bb673"/>
<line x1="729.49" y1="541.7" x2="729.49" y2="547.1" stroke="#5eb1ab" stroke-width="1"/>
<rect x="727.63" y="543.7" width="3.7" height="1.7" fill="#11891a"/>
<line x1="733.98" y1="529.2" x2="733.98" y2="544.2" stroke="#5eb1ab" stroke-width="1"/>
<rect x="732.13" y="531.7" width="3.7" height="12.0" fill="#11891a"/>
<line x1="738.47" y1="524.2" x2="738.47" y2="533.4" stroke="#5eb1ab" stroke-width="1"/>
<rect x="736.62" y="525.9" width="3.7" height="6.2" fill="#11891a"/>
<line x1="742.96" y1="510.2" x2="742.96" y2="530.2" stroke="#5eb1ab" stroke-width="1"/>
<rect x="741.11" y="512.0" width="3.7" height="13.8" fill="#11891a"/>
<line x1="747.46" y1="504.2" x2="747.46" y2="515.8" stroke="#5eb1ab" stroke-width="1"/>
<rect x="745.61" y="508.6" width="3.7" height="3.8" fill="#11891a"/>
<line x1="751.95" y1="484.6" x2="751.95" y2="509.5" stroke="#5eb1ab" stroke-width="1"/>
<rect x="750.10" y="489.1" width="3.7" height="19.6" fill="#11891a"/>
<line x1="756.44" y1="480.2" x2="756.44" y2="504.6" stroke="#f8a5a8" stroke-width="1"/>
<rect x="754.59" y="489.1" width="3.7" height="1.6" fill="#11891a"/>
<line x1="760.94" y1="476.2" x2="760.94" y2="491.3" stroke="#5eb1ab" stroke-width="1"/>
<rect x="759.09" y="480.8" width="3.7" height="9.8" fill="#11891a"/>
<line x1="765.43" y1="480.2" x2="765.43" y2="494.6" stroke="#f8a5a8" stroke-width="1"/>
<rect x="763.58" y="480.8" width="3.7" height="1.6" fill="#11891a"/>
<line x1="769.92" y1="441.9" x2="769.92" y2="483.1" stroke="#5eb1ab" stroke-width="1"/>
<rect x="768.07" y="448.6" width="3.7" height="33.8" fill="#11891a"/>
<line x1="774.42" y1="409.4" x2="774.42" y2="459.7" stroke="#5eb1ab" stroke-width="1"/>
<rect x="772.57" y="426.3" width="3.7" height="22.7" fill="#11891a"/>
<line x1="778.91" y1="356.0" x2="778.91" y2="428.5" stroke="#5eb1ab" stroke-width="1"/>
<rect x="777.06" y="372.3" width="3.7" height="54.5" fill="#11891a"/>
<line x1="783.40" y1="299.0" x2="783.40" y2="406.9" stroke="#5eb1ab" stroke-width="1"/>
<rect x="781.55" y="330.1" width="3.7" height="41.8" fill="#11891a"/>
<line x1="787.89" y1="315.2" x2="787.89" y2="390.2" stroke="#f8a5a8" stroke-width="1"/>
<rect x="786.04" y="330.1" width="3.7" height="18.9" fill="#11891a"/>
<line x1="792.39" y1="331.7" x2="792.39" y2="403.5" stroke="#f8a5a8" stroke-width="1"/>
<rect x="790.54" y="348.6" width="3.7" height="28.2" fill="#2bb673"/>
<line x1="796.88" y1="325.6" x2="796.88" y2="400.2" stroke="#5eb1ab" stroke-width="1"/>
<rect x="795.03" y="371.3" width="3.7" height="5.5" fill="#2bb673"/>
<line x1="801.37" y1="307.8" x2="801.37" y2="376.8" stroke="#5eb1ab" stroke-width="1"/>
<rect x="799.52" y="325.2" width="3.7" height="45.6" fill="#2bb673"/>
<line x1="805.87" y1="238.0" x2="805.87" y2="331.2" stroke="#5eb1ab" stroke-width="1"/>
<rect x="804.02" y="246.9" width="3.7" height="78.3" fill="#11891a"/>
<line x1="810.36" y1="168.5" x2="810.36" y2="270.0" stroke="#5eb1ab" stroke-width="1"/>
<rect x="808.51" y="176.1" width="3.7" height="70.8" fill="#11891a"/>
<line x1="814.85" y1="176.1" x2="814.85" y2="289.4" stroke="#f8a5a8" stroke-width="1"/>
<rect x="813.00" y="176.1" width="3.7" height="96.8" fill="#2bb673"/>
<line x1="819.35" y1="215.3" x2="819.35" y2="274.5" stroke="#5eb1ab" stroke-width="1"/>
<rect x="817.50" y="227.3" width="3.7" height="46.5" fill="#2bb673"/>
<line x1="823.84" y1="141.3" x2="823.84" y2="240.2" stroke="#5eb1ab" stroke-width="1"/>
<rect x="821.99" y="163.4" width="3.7" height="64.6" fill="#2bb673"/>
<line x1="828.33" y1="150.7" x2="828.33" y2="207.9" stroke="#f8a5a8" stroke-width="1"/>
<rect x="826.48" y="163.4" width="3.7" height="13.4" fill="#2bb673"/>
<line x1="832.82" y1="166.8" x2="832.82" y2="231.7" stroke="#f8a5a8" stroke-width="1"/>
<rect x="830.97" y="176.3" width="3.7" height="12.7" fill="#2bb673"/>
<line x1="837.32" y1="153.4" x2="837.32" y2="196.1" stroke="#5eb1ab" stroke-width="1"/>
<rect x="835.47" y="169.4" width="3.7" height="19.6" fill="#2bb673"/>
<line x1="841.81" y1="145.6" x2="841.81" y2="190.8" stroke="#5eb1ab" stroke-width="1"/>
<rect x="839.96" y="155.6" width="3.7" height="14.5" fill="#2bb673"/>
<line x1="846.30" y1="115.9" x2="846.30" y2="231.3" stroke="#f8a5a8" stroke-width="1"/>
<rect x="844.45" y="155.6" width="3.7" height="30.7" fill="#c3c3c3"/>
<line x1="850.80" y1="175.2" x2="850.80" y2="258.4" stroke="#f0353c" stroke-width="1"/>
<rect x="848.95" y="186.3" width="3.7" height="55.7" fill="#c3c3c3"/>
<line x1="855.29" y1="168.5" x2="855.29" y2="244.6" stroke="#5eb1ab" stroke-width="1"/>
<rect x="853.44" y="182.3" width="3.7" height="60.1" fill="#c3c3c3"/>
<line x1="859.78" y1="159.6" x2="859.78" y2="211.3" stroke="#5eb1ab" stroke-width="1"/>
<rect x="857.93" y="169.0" width="3.7" height="13.3" fill="#c3c3c3"/>
<line x1="864.28" y1="157.9" x2="864.28" y2="283.4" stroke="#f0353c" stroke-width="1"/>
<rect x="862.43" y="169.0" width="3.7" height="94.3" fill="#c3c3c3"/>
<line x1="868.77" y1="258.0" x2="868.77" y2="399.1" stroke="#f0353c" stroke-width="1"/>
<rect x="866.92" y="262.7" width="3.7" height="94.8" fill="#fe0000"/>
<line x1="873.26" y1="308.5" x2="873.26" y2="367.9" stroke="#5eb1ab" stroke-width="1"/>
<rect x="871.41" y="350.1" width="3.7" height="7.3" fill="#fe0000"/>
<line x1="877.75" y1="319.6" x2="877.75" y2="362.4" stroke="#5eb1ab" stroke-width="1"/>
<rect x="875.90" y="349.0" width="3.7" height="1.8" fill="#fe0000"/>
<line x1="882.25" y1="320.1" x2="882.25" y2="386.8" stroke="#5eb1ab" stroke-width="1"/>
<rect x="880.40" y="324.1" width="3.7" height="25.4" fill="#fe0000"/>
<line x1="886.74" y1="305.6" x2="886.74" y2="368.6" stroke="#f0353c" stroke-width="1"/>
<rect x="884.89" y="324.1" width="3.7" height="26.7" fill="#fe0000"/>
<line x1="891.23" y1="349.0" x2="891.23" y2="402.7" stroke="#f8a5a8" stroke-width="1"/>
<rect x="889.38" y="350.1" width="3.7" height="7.3" fill="#fe0000"/>
<line x1="895.73" y1="342.8" x2="895.73" y2="373.5" stroke="#5eb1ab" stroke-width="1"/>
<rect x="893.88" y="353.5" width="3.7" height="4.0" fill="#fe0000"/>
<line x1="900.22" y1="353.0" x2="900.22" y2="379.0" stroke="#f8a5a8" stroke-width="1"/>
<rect x="898.37" y="353.9" width="3.7" height="8.0" fill="#fe0000"/>
<line x1="904.71" y1="357.9" x2="904.71" y2="386.8" stroke="#f0353c" stroke-width="1"/>
<rect x="902.86" y="361.7" width="3.7" height="20.0" fill="#fe0000"/>
<line x1="909.21" y1="351.7" x2="909.21" y2="400.6" stroke="#5eb1ab" stroke-width="1"/>
<rect x="907.36" y="352.3" width="3.7" height="29.4" fill="#c3c3c3"/>
<line x1="913.70" y1="294.6" x2="913.70" y2="374.7" stroke="#5eb1ab" stroke-width="1"/>
<rect x="911.85" y="316.8" width="3.7" height="57.2" fill="#c3c3c3"/>
<line x1="918.19" y1="273.0" x2="918.19" y2="335.8" stroke="#5eb1ab" stroke-width="1"/>
<rect x="916.34" y="285.7" width="3.7" height="31.2" fill="#c3c3c3"/>
<line x1="922.68" y1="250.1" x2="922.68" y2="292.4" stroke="#5eb1ab" stroke-width="1"/>
<rect x="920.83" y="259.4" width="3.7" height="26.3" fill="#c3c3c3"/>
<line x1="927.18" y1="236.7" x2="927.18" y2="284.1" stroke="#5eb1ab" stroke-width="1"/>
<rect x="925.33" y="241.2" width="3.7" height="18.2" fill="#c3c3c3"/>
<line x1="931.67" y1="230.7" x2="931.67" y2="265.0" stroke="#f8a5a8" stroke-width="1"/>
<rect x="929.82" y="241.2" width="3.7" height="4.5" fill="#c3c3c3"/>
<line x1="936.16" y1="219.6" x2="936.16" y2="262.8" stroke="#5eb1ab" stroke-width="1"/>
<rect x="934.31" y="221.2" width="3.7" height="24.5" fill="#2bb673"/>
<line x1="940.66" y1="212.3" x2="940.66" y2="289.5" stroke="#f0353c" stroke-width="1"/>
<rect x="938.81" y="221.2" width="3.7" height="45.6" fill="#c3c3c3"/>
<line x1="945.15" y1="245.0" x2="945.15" y2="281.2" stroke="#5eb1ab" stroke-width="1"/>
<rect x="943.30" y="257.9" width="3.7" height="8.9" fill="#c3c3c3"/>
<line x1="949.64" y1="256.8" x2="949.64" y2="319.0" stroke="#f8a5a8" stroke-width="1"/>
<rect x="947.79" y="257.9" width="3.7" height="32.3" fill="#c3c3c3"/>
<line x1="954.14" y1="242.3" x2="954.14" y2="309.1" stroke="#5eb1ab" stroke-width="1"/>
<rect x="952.29" y="250.1" width="3.7" height="40.1" fill="#2bb673"/>
<line x1="958.63" y1="183.3" x2="958.63" y2="259.7" stroke="#5eb1ab" stroke-width="1"/>
<rect x="956.78" y="198.2" width="3.7" height="51.8" fill="#2bb673"/>
<line x1="963.12" y1="132.3" x2="963.12" y2="204.7" stroke="#5eb1ab" stroke-width="1"/>
<rect x="961.27" y="143.5" width="3.7" height="55.2" fill="#11891a"/>
<line x1="967.61" y1="99.0" x2="967.61" y2="158.6" stroke="#f8a5a8" stroke-width="1"/>
<rect x="965.76" y="143.5" width="3.7" height="5.6" fill="#2bb673"/>
<line x1="972.11" y1="126.1" x2="972.11" y2="174.6" stroke="#5eb1ab" stroke-width="1"/>
<rect x="970.26" y="145.2" width="3.7" height="3.8" fill="#2bb673"/>
<line x1="976.60" y1="120.8" x2="976.60" y2="158.6" stroke="#5eb1ab" stroke-width="1"/>
<rect x="974.75" y="129.0" width="3.7" height="16.7" fill="#2bb673"/>
<line x1="981.09" y1="83.4" x2="981.09" y2="136.8" stroke="#5eb1ab" stroke-width="1"/>
<rect x="979.24" y="111.2" width="3.7" height="18.2" fill="#2bb673"/>
<line x1="985.59" y1="103.8" x2="985.59" y2="190.2" stroke="#f8a5a8" stroke-width="1"/>
<rect x="983.74" y="111.2" width="3.7" height="54.5" fill="#c3c3c3"/>
<line x1="990.08" y1="159.5" x2="990.08" y2="206.9" stroke="#f8a5a8" stroke-width="1"/>
<rect x="988.23" y="165.7" width="3.7" height="11.1" fill="#c3c3c3"/>
<line x1="994.57" y1="161.8" x2="994.57" y2="301.9" stroke="#f8a5a8" stroke-width="1"/>
<rect x="992.72" y="176.9" width="3.7" height="63.6" fill="#c3c3c3"/>
<line x1="999.07" y1="219.6" x2="999.07" y2="255.7" stroke="#5eb1ab" stroke-width="1"/>
<rect x="997.22" y="234.5" width="3.7" height="6.0" fill="#c3c3c3"/>
<line x1="1003.56" y1="233.4" x2="1003.56" y2="270.8" stroke="#f8a5a8" stroke-width="1"/>
<rect x="1001.71" y="234.5" width="3.7" height="27.4" fill="#c3c3c3"/>
<line x1="1008.05" y1="220.1" x2="1008.05" y2="270.1" stroke="#5eb1ab" stroke-width="1"/>
<rect x="1006.20" y="229.4" width="3.7" height="32.5" fill="#c3c3c3"/>
<line x1="1012.54" y1="220.0" x2="1012.54" y2="270.1" stroke="#f8a5a8" stroke-width="1"/>
<rect x="1010.69" y="228.9" width="3.7" height="28.5" fill="#c3c3c3"/>
<line x1="1017.04" y1="254.5" x2="1017.04" y2="310.1" stroke="#f0353c" stroke-width="1"/>
<rect x="1015.19" y="257.4" width="3.7" height="43.4" fill="#fe0000"/>
<line x1="1021.53" y1="280.1" x2="1021.53" y2="317.9" stroke="#5eb1ab" stroke-width="1"/>
<rect x="1019.68" y="290.8" width="3.7" height="10.0" fill="#fe0000"/>
<line x1="1026.02" y1="286.8" x2="1026.02" y2="364.2" stroke="#f0353c" stroke-width="1"/>
<rect x="1024.17" y="290.8" width="3.7" height="55.0" fill="#fe0000"/>
<line x1="1030.52" y1="324.6" x2="1030.52" y2="371.3" stroke="#5eb1ab" stroke-width="1"/>
<rect x="1028.67" y="332.4" width="3.7" height="13.4" fill="#fe0000"/>
<line x1="1035.01" y1="293.4" x2="1035.01" y2="344.6" stroke="#5eb1ab" stroke-width="1"/>
<rect x="1033.16" y="295.7" width="3.7" height="37.2" fill="#c3c3c3"/>
<line x1="1039.50" y1="267.9" x2="1039.50" y2="301.9" stroke="#f0353c" stroke-width="1"/>
<rect x="1037.65" y="295.7" width="3.7" height="4.0" fill="#fe0000"/>
<line x1="1044.00" y1="277.4" x2="1044.00" y2="330.6" stroke="#f0353c" stroke-width="1"/>
<rect x="1042.15" y="299.0" width="3.7" height="29.4" fill="#fe0000"/>
<line x1="1048.49" y1="313.5" x2="1048.49" y2="359.7" stroke="#f8a5a8" stroke-width="1"/>
<rect x="1046.64" y="327.9" width="3.7" height="6.0" fill="#fe0000"/>
<line x1="1052.98" y1="271.6" x2="1052.98" y2="334.6" stroke="#5eb1ab" stroke-width="1"/>
<rect x="1051.13" y="327.9" width="3.7" height="6.0" fill="#fe0000"/>
<line x1="1057.47" y1="294.5" x2="1057.47" y2="337.5" stroke="#f0353c" stroke-width="1"/>
<rect x="1055.62" y="327.9" width="3.7" height="6.0" fill="#fe0000"/>
<line x1="1061.97" y1="295.7" x2="1061.97" y2="335.3" stroke="#5eb1ab" stroke-width="1"/>
<rect x="1060.12" y="305.7" width="3.7" height="28.3" fill="#c3c3c3"/>
<line x1="1066.46" y1="260.1" x2="1066.46" y2="310.1" stroke="#5eb1ab" stroke-width="1"/>
<rect x="1064.61" y="260.5" width="3.7" height="45.6" fill="#c3c3c3"/>
<line x1="1070.95" y1="249.3" x2="1070.95" y2="281.2" stroke="#f8a5a8" stroke-width="1"/>
<rect x="1069.10" y="260.5" width="3.7" height="4.5" fill="#c3c3c3"/>
<line x1="1075.45" y1="257.8" x2="1075.45" y2="299.0" stroke="#f0353c" stroke-width="1"/>
<rect x="1073.60" y="264.9" width="3.7" height="33.4" fill="#c3c3c3"/>
<line x1="1079.94" y1="296.1" x2="1079.94" y2="321.9" stroke="#f0353c" stroke-width="1"/>
<rect x="1078.09" y="297.9" width="3.7" height="20.0" fill="#c3c3c3"/>
<line x1="1084.43" y1="291.2" x2="1084.43" y2="326.8" stroke="#f8a5a8" stroke-width="1"/>
<rect x="1082.58" y="317.5" width="3.7" height="2.7" fill="#c3c3c3"/>
<line x1="1088.93" y1="309.5" x2="1088.93" y2="336.2" stroke="#f8a5a8" stroke-width="1"/>
<rect x="1087.08" y="319.7" width="3.7" height="8.2" fill="#c3c3c3"/>
<line x1="1093.42" y1="315.2" x2="1093.42" y2="364.6" stroke="#f0353c" stroke-width="1"/>
<rect x="1091.57" y="327.3" width="3.7" height="36.3" fill="#fe0000"/>
<line x1="1097.91" y1="360.0" x2="1097.91" y2="423.4" stroke="#f0353c" stroke-width="1"/>
<rect x="1096.06" y="362.9" width="3.7" height="22.3" fill="#a90000"/>
<line x1="1102.40" y1="383.4" x2="1102.40" y2="406.7" stroke="#f8a5a8" stroke-width="1"/>
<rect x="1100.55" y="385.2" width="3.7" height="8.2" fill="#a90000"/>
<line x1="1106.90" y1="390.5" x2="1106.90" y2="411.2" stroke="#f8a5a8" stroke-width="1"/>
<rect x="1105.05" y="393.4" width="3.7" height="6.7" fill="#fe0000"/>
<line x1="1111.39" y1="375.6" x2="1111.39" y2="400.7" stroke="#5eb1ab" stroke-width="1"/>
<rect x="1109.54" y="396.3" width="3.7" height="3.8" fill="#fe0000"/>
<line x1="1115.88" y1="381.2" x2="1115.88" y2="423.0" stroke="#f0353c" stroke-width="1"/>
<rect x="1114.03" y="396.3" width="3.7" height="26.0" fill="#fe0000"/>
<line x1="1120.38" y1="420.8" x2="1120.38" y2="493.5" stroke="#f8a5a8" stroke-width="1"/>
<rect x="1118.53" y="422.3" width="3.7" height="49.6" fill="#a90000"/>
<line x1="1124.87" y1="459.0" x2="1124.87" y2="477.9" stroke="#5eb1ab" stroke-width="1"/>
<rect x="1123.02" y="467.5" width="3.7" height="4.5" fill="#fe0000"/>
<line x1="1129.36" y1="463.5" x2="1129.36" y2="486.2" stroke="#f0353c" stroke-width="1"/>
<rect x="1127.51" y="467.5" width="3.7" height="14.9" fill="#fe0000"/>
<line x1="1133.86" y1="455.7" x2="1133.86" y2="483.5" stroke="#5eb1ab" stroke-width="1"/>
<rect x="1132.01" y="469.0" width="3.7" height="13.4" fill="#fe0000"/>
<line x1="1138.35" y1="463.0" x2="1138.35" y2="483.5" stroke="#f8a5a8" stroke-width="1"/>
<rect x="1136.50" y="469.0" width="3.7" height="1.2" fill="#fe0000"/>
<line x1="1142.84" y1="442.3" x2="1142.84" y2="470.6" stroke="#f0353c" stroke-width="1"/>
<rect x="1140.99" y="455.7" width="3.7" height="14.0" fill="#fe0000"/>
<line x1="1147.33" y1="437.9" x2="1147.33" y2="470.2" stroke="#5eb1ab" stroke-width="1"/>
<rect x="1145.48" y="449.0" width="3.7" height="6.7" fill="#c3c3c3"/>
<line x1="1151.83" y1="446.1" x2="1151.83" y2="456.8" stroke="#f0353c" stroke-width="1"/>
<rect x="1149.98" y="451.9" width="3.7" height="1.3" fill="#c3c3c3"/>
<line x1="1156.32" y1="434.6" x2="1156.32" y2="454.1" stroke="#5eb1ab" stroke-width="1"/>
<rect x="1154.47" y="440.8" width="3.7" height="12.0" fill="#c3c3c3"/>
<line x1="1160.81" y1="434.6" x2="1160.81" y2="469.0" stroke="#f8a5a8" stroke-width="1"/>
<rect x="1158.96" y="440.8" width="3.7" height="22.7" fill="#c3c3c3"/>
<line x1="1165.31" y1="460.1" x2="1165.31" y2="480.2" stroke="#f0353c" stroke-width="1"/>
<rect x="1163.46" y="463.5" width="3.7" height="16.0" fill="#fe0000"/>
<line x1="1169.80" y1="471.3" x2="1169.80" y2="480.2" stroke="#5eb1ab" stroke-width="1"/>
<rect x="1167.95" y="475.7" width="3.7" height="3.8" fill="#c3c3c3"/>
<line x1="1174.29" y1="460.8" x2="1174.29" y2="486.8" stroke="#5eb1ab" stroke-width="1"/>
<rect x="1172.44" y="461.3" width="3.7" height="14.5" fill="#c3c3c3"/>
<line x1="1178.79" y1="452.8" x2="1178.79" y2="481.7" stroke="#f0353c" stroke-width="1"/>
<rect x="1176.94" y="461.3" width="3.7" height="19.6" fill="#fe0000"/>
<line x1="1183.28" y1="480.2" x2="1183.28" y2="489.7" stroke="#f8a5a8" stroke-width="1"/>
<rect x="1181.43" y="480.8" width="3.7" height="4.9" fill="#fe0000"/>
<line x1="1187.77" y1="472.4" x2="1187.77" y2="488.0" stroke="#5eb1ab" stroke-width="1"/>
<rect x="1185.92" y="483.1" width="3.7" height="2.7" fill="#c3c3c3"/>
<line x1="1192.26" y1="471.9" x2="1192.26" y2="483.5" stroke="#5eb1ab" stroke-width="1"/>
<rect x="1190.41" y="480.8" width="3.7" height="2.2" fill="#c3c3c3"/>
<line x1="1196.76" y1="475.7" x2="1196.76" y2="489.7" stroke="#f0353c" stroke-width="1"/>
<rect x="1194.91" y="480.4" width="3.7" height="1.3" fill="#c3c3c3"/>
<line x1="1201.25" y1="477.3" x2="1201.25" y2="481.7" stroke="#5eb1ab" stroke-width="1"/>
<rect x="1199.40" y="479.1" width="3.7" height="2.2" fill="#c3c3c3"/>
<rect x="62.7" y="471.9" width="3.6" height="3.6" fill="#37a03a"/>
<text x="64.1" y="469.3" font-size="9.4" fill="#66b96a" text-anchor="middle">wPiv4H</text>
<rect x="152.6" y="550.5" width="3.6" height="3.6" fill="#37a03a"/>
<text x="154.0" y="547.9" font-size="9.4" fill="#66b96a" text-anchor="middle">wPiv4H</text>
<rect x="206.5" y="562.9" width="3.6" height="3.6" fill="#37a03a"/>
<text x="207.9" y="560.3" font-size="9.4" fill="#66b96a" text-anchor="middle">wPiv4H</text>
<rect x="260.4" y="568.2" width="3.6" height="3.6" fill="#37a03a"/>
<text x="261.8" y="565.6" font-size="9.4" fill="#66b96a" text-anchor="middle">wPiv4H</text>
<rect x="341.3" y="596.5" width="3.6" height="3.6" fill="#37a03a"/>
<text x="342.7" y="593.9" font-size="9.4" fill="#66b96a" text-anchor="middle">wPiv4H</text>
<rect x="422.2" y="519.9" width="3.6" height="3.6" fill="#37a03a"/>
<text x="423.6" y="517.3" font-size="9.4" fill="#66b96a" text-anchor="middle">wPiv4H</text>
<rect x="498.5" y="546.6" width="3.6" height="3.6" fill="#37a03a"/>
<text x="499.9" y="544.0" font-size="9.4" fill="#66b96a" text-anchor="middle">wPiv4H</text>
<rect x="570.4" y="546.6" width="3.6" height="3.6" fill="#37a03a"/>
<text x="571.8" y="544.0" font-size="9.4" fill="#66b96a" text-anchor="middle">wPiv4H</text>
<rect x="642.3" y="547.1" width="3.6" height="3.6" fill="#37a03a"/>
<text x="643.7" y="544.5" font-size="9.4" fill="#66b96a" text-anchor="middle">wPiv4H</text>
<rect x="691.7" y="530.8" width="3.6" height="3.6" fill="#37a03a"/>
<text x="693.1" y="528.2" font-size="9.4" fill="#66b96a" text-anchor="middle">wPiv4H</text>
<rect x="781.6" y="294.2" width="3.6" height="3.6" fill="#37a03a"/>
<text x="783.0" y="291.6" font-size="9.4" fill="#66b96a" text-anchor="middle">wPiv4H</text>
<rect x="822.0" y="136.5" width="3.6" height="3.6" fill="#37a03a"/>
<text x="823.4" y="133.9" font-size="9.4" fill="#66b96a" text-anchor="middle">wPiv4H</text>
<rect x="844.5" y="111.1" width="3.6" height="3.6" fill="#37a03a"/>
<text x="845.9" y="108.5" font-size="9.4" fill="#66b96a" text-anchor="middle">wPiv4H</text>
<rect x="979.3" y="78.2" width="3.6" height="3.6" fill="#37a03a"/>
<text x="980.7" y="75.6" font-size="9.4" fill="#66b96a" text-anchor="middle">wPiv4H</text>
<rect x="1037.7" y="263.1" width="3.6" height="3.6" fill="#37a03a"/>
<text x="1039.1" y="260.5" font-size="9.4" fill="#66b96a" text-anchor="middle">wPiv4H</text>
<rect x="1069.2" y="244.5" width="3.6" height="3.6" fill="#37a03a"/>
<text x="1070.6" y="241.9" font-size="9.4" fill="#66b96a" text-anchor="middle">wPiv4H</text>
<rect x="1159.0" y="429.0" width="3.6" height="3.6" fill="#37a03a"/>
<text x="1160.4" y="426.4" font-size="9.4" fill="#66b96a" text-anchor="middle">wPiv4H</text>
<rect x="98.7" y="589.8" width="3.6" height="3.6" fill="#fc3c3c"/>
<text x="99.9" y="602.2" font-size="9.4" fill="#fb6f72" text-anchor="middle">wPiv4L</text>
<rect x="130.1" y="587.0" width="3.6" height="3.6" fill="#fc3c3c"/>
<text x="131.3" y="599.4" font-size="9.4" fill="#fb6f72" text-anchor="middle">wPiv4L</text>
<rect x="184.0" y="591.7" width="3.6" height="3.6" fill="#fc3c3c"/>
<text x="185.2" y="604.1" font-size="9.4" fill="#fb6f72" text-anchor="middle">wPiv4L</text>
<rect x="220.0" y="591.1" width="3.6" height="3.6" fill="#fc3c3c"/>
<text x="221.2" y="603.5" font-size="9.4" fill="#fb6f72" text-anchor="middle">wPiv4L</text>
<rect x="242.4" y="589.4" width="3.6" height="3.6" fill="#fc3c3c"/>
<text x="243.6" y="601.8" font-size="9.4" fill="#fb6f72" text-anchor="middle">wPiv4L</text>
<rect x="296.4" y="612.5" width="3.6" height="3.6" fill="#fc3c3c"/>
<text x="297.6" y="624.9" font-size="9.4" fill="#fb6f72" text-anchor="middle">wPiv4L</text>
<rect x="332.3" y="610.8" width="3.6" height="3.6" fill="#fc3c3c"/>
<text x="333.5" y="623.2" font-size="9.4" fill="#fb6f72" text-anchor="middle">wPiv4L</text>
<rect x="534.5" y="585.5" width="3.6" height="3.6" fill="#fc3c3c"/>
<text x="535.7" y="597.9" font-size="9.4" fill="#fb6f72" text-anchor="middle">wPiv4L</text>
<rect x="588.4" y="606.4" width="3.6" height="3.6" fill="#fc3c3c"/>
<text x="589.6" y="618.8" font-size="9.4" fill="#fb6f72" text-anchor="middle">wPiv4L</text>
<rect x="705.2" y="559.5" width="3.6" height="3.6" fill="#fc3c3c"/>
<text x="706.4" y="571.9" font-size="9.4" fill="#fb6f72" text-anchor="middle">wPiv4L</text>
<rect x="867.0" y="401.1" width="3.6" height="3.6" fill="#fc3c3c"/>
<text x="868.2" y="413.5" font-size="9.4" fill="#fb6f72" text-anchor="middle">wPiv4L</text>
<rect x="889.4" y="403.9" width="3.6" height="3.6" fill="#fc3c3c"/>
<text x="890.6" y="416.3" font-size="9.4" fill="#fb6f72" text-anchor="middle">wPiv4L</text>
<rect x="947.8" y="320.2" width="3.6" height="3.6" fill="#fc3c3c"/>
<text x="949.0" y="332.6" font-size="9.4" fill="#fb6f72" text-anchor="middle">wPiv4L</text>
<rect x="992.8" y="304.6" width="3.6" height="3.6" fill="#fc3c3c"/>
<text x="994.0" y="317.0" font-size="9.4" fill="#fb6f72" text-anchor="middle">wPiv4L</text>
<rect x="1028.7" y="374.0" width="3.6" height="3.6" fill="#fc3c3c"/>
<text x="1029.9" y="386.4" font-size="9.4" fill="#fb6f72" text-anchor="middle">wPiv4L</text>
<rect x="1096.1" y="425.4" width="3.6" height="3.6" fill="#fc3c3c"/>
<text x="1097.3" y="437.8" font-size="9.4" fill="#fb6f72" text-anchor="middle">wPiv4L</text>
<rect x="1118.6" y="496.8" width="3.6" height="3.6" fill="#fc3c3c"/>
<text x="1119.8" y="509.2" font-size="9.4" fill="#fb6f72" text-anchor="middle">wPiv4L</text>
<line x1="1119" y1="183.5" x2="1311.7" y2="470.3" stroke="#6a6af8" stroke-opacity="0.45" stroke-width="3" stroke-linecap="butt" fill="none"/>
<line x1="1311.7" y1="470.3" x2="1292.3" y2="467.8" stroke="#6a6af8" stroke-opacity="0.45" stroke-width="3" stroke-linecap="butt" fill="none"/>
<line x1="1311.7" y1="470.3" x2="1316.7" y2="451.4" stroke="#6a6af8" stroke-opacity="0.45" stroke-width="3" stroke-linecap="butt" fill="none"/>
<line x1="980.2" y1="568.1" x2="1007.3" y2="495.8" stroke="#6a6af8" stroke-opacity="0.45" stroke-width="2.6" stroke-linecap="butt" fill="none"/>
<line x1="1007.3" y1="495.8" x2="988.2" y2="503.8" stroke="#6a6af8" stroke-opacity="0.45" stroke-width="2.6" stroke-linecap="butt" fill="none"/>
<line x1="1007.3" y1="495.8" x2="1016.5" y2="513.8" stroke="#6a6af8" stroke-opacity="0.45" stroke-width="2.6" stroke-linecap="butt" fill="none"/>
<g font-weight="bold" fill="#7b7bfb" font-size="28.1" lengthAdjust="spacingAndGlyphs">
<text x="1008.2" y="100.8" textLength="233.5" lengthAdjust="spacingAndGlyphs">The price finding</text>
<text x="1008.2" y="130.5" textLength="195.5" lengthAdjust="spacingAndGlyphs">support at the</text>
<text x="1008.4" y="160.1" textLength="97.3" lengthAdjust="spacingAndGlyphs">$2000</text>
<text x="1111" y="160.1" textLength="82" lengthAdjust="spacingAndGlyphs">round</text>
<text x="1199.3" y="160.1" textLength="109.5" lengthAdjust="spacingAndGlyphs">number</text>
<text x="819.6" y="591.4" textLength="377.5" lengthAdjust="spacingAndGlyphs">The price trading below the</text>
<text x="819.6" y="623" textLength="96.5" lengthAdjust="spacingAndGlyphs">weekly</text>
<text x="924.6" y="623" textLength="116.5" lengthAdjust="spacingAndGlyphs">200sma</text>
</g>
</g>
<line x1="1324.5" y1="20" x2="1324.5" y2="683" stroke="#a7a8ae" stroke-width="1"/>
<line x1="21" y1="662.5" x2="1378" y2="662.5" stroke="#6c6f7a" stroke-width="1"/>
<g font-size="9.9" fill="#565964" letter-spacing="0.42">
<text x="1330.6" y="33.2">USD</text>
<text x="1330.6" y="63.0">72000.0</text>
<text x="1330.6" y="95.0">68000.0</text>
<text x="1330.6" y="127.0">64000.0</text>
<text x="1330.6" y="159.1">60000.0</text>
<text x="1330.6" y="191.1">56000.0</text>
<text x="1330.6" y="223.1">52000.0</text>
<text x="1330.6" y="255.1">48000.0</text>
<text x="1330.6" y="287.1">44000.0</text>
<text x="1330.6" y="319.2">40000.0</text>
<text x="1330.6" y="351.2">36000.0</text>
<text x="1330.6" y="383.2">32000.0</text>
<text x="1330.6" y="415.2">28000.0</text>
<text x="1330.6" y="447.2">24000.0</text>
<text x="1330.6" y="479.3">20000.0</text>
<text x="1330.6" y="511.3">16000.0</text>
<text x="1330.6" y="543.3">12000.0</text>
<text x="1330.6" y="575.3">8000.0</text>
<text x="1330.6" y="607.3">4000.0</text>
<text x="1330.6" y="639.4">0.0</text>
</g>
<text x="78.0" y="676.9" font-size="9.5" font-weight="bold" fill="#3a3d49" text-anchor="middle" letter-spacing="0.85">2018</text>
<text x="158.9" y="677" font-size="9.4" fill="#6a6d78" text-anchor="middle">May</text>
<text x="235.3" y="677" font-size="9.4" fill="#6a6d78" text-anchor="middle">Sep</text>
<text x="316.1" y="676.9" font-size="9.5" font-weight="bold" fill="#3a3d49" text-anchor="middle" letter-spacing="0.85">2019</text>
<text x="392.5" y="677" font-size="9.4" fill="#6a6d78" text-anchor="middle">May</text>
<text x="468.9" y="677" font-size="9.4" fill="#6a6d78" text-anchor="middle">Sep</text>
<text x="549.8" y="676.9" font-size="9.5" font-weight="bold" fill="#3a3d49" text-anchor="middle" letter-spacing="0.85">2020</text>
<text x="626.1" y="677" font-size="9.4" fill="#6a6d78" text-anchor="middle">May</text>
<text x="707.0" y="677" font-size="9.4" fill="#6a6d78" text-anchor="middle">Sep</text>
<text x="783.4" y="676.9" font-size="9.5" font-weight="bold" fill="#3a3d49" text-anchor="middle" letter-spacing="0.85">2021</text>
<text x="859.8" y="677" font-size="9.4" fill="#6a6d78" text-anchor="middle">May</text>
<text x="940.7" y="677" font-size="9.4" fill="#6a6d78" text-anchor="middle">Sep</text>
<text x="1017.0" y="676.9" font-size="9.5" font-weight="bold" fill="#3a3d49" text-anchor="middle" letter-spacing="0.85">2022</text>
<text x="1093.4" y="677" font-size="9.4" fill="#6a6d78" text-anchor="middle">May</text>
<text x="1174.3" y="677" font-size="9.4" fill="#6a6d78" text-anchor="middle">Sep</text>
<text x="1250.7" y="676.9" font-size="9.5" font-weight="bold" fill="#3a3d49" text-anchor="middle" letter-spacing="0.85">2023</text>
<text x="19.8" y="13.7" font-size="9.8" fill="#1f2330" textLength="315.5" lengthAdjust="spacing">Sublime_Trading published on TradingView.com, Oct 17, 2022 18:14 UTC+1</text>
<g font-size="9.7" fill="#2a2e3b">
<text x="25.8" y="33.8" textLength="143.5" lengthAdjust="spacing">Bitcoin / U.S. Dollar, 1W, BITFINEX</text>
<text x="174" y="33.8">O</text><text x="181.4" y="33.8" fill="#2ca69a" textLength="34.5" lengthAdjust="spacing">19268.0</text>
<text x="220.8" y="33.8">H</text><text x="227.6" y="33.8" fill="#2ca69a" textLength="34.8" lengthAdjust="spacing">19684.0</text>
<text x="267.2" y="33.8">L</text><text x="272.4" y="33.8" fill="#2ca69a" textLength="33" lengthAdjust="spacing">19166.0</text>
<text x="310.3" y="33.8">C</text><text x="317.2" y="33.8" fill="#2ca69a" textLength="33.8" lengthAdjust="spacing">19525.0</text>
<text x="356" y="33.8" fill="#2ca69a" textLength="71" lengthAdjust="spacing">+258.0 (+1.34%)</text>
</g>
<g transform="translate(20,690.45) scale(0.393,0.415)" fill="#131722"><path d="M14 22H7V11H0V4h14v18z"/><circle cx="20" cy="8" r="4"/><path d="M28 22h-8l7.5-18h8L28 22z"/></g>
<text x="38" y="700.1" font-size="9.5" letter-spacing="0.26" fill="#1e222d">TradingView</text>
</svg>
</body></html>
